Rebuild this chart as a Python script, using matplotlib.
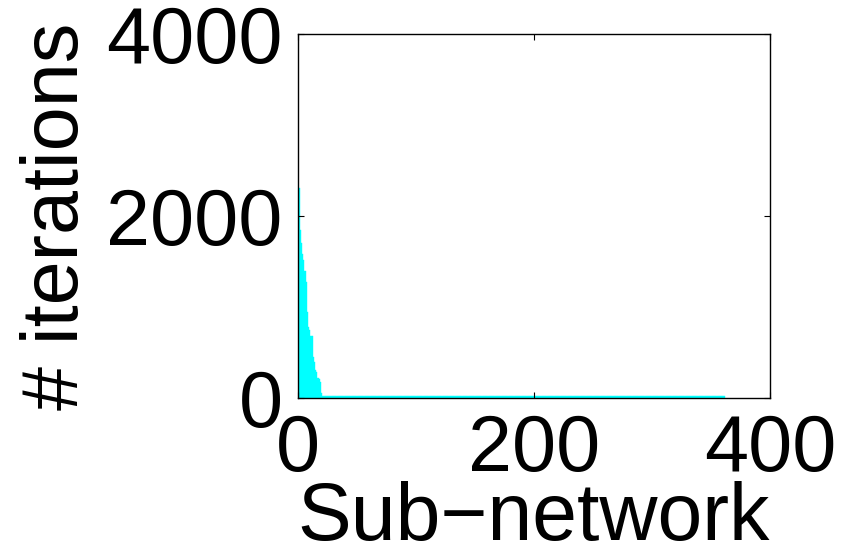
import matplotlib
matplotlib.use("Agg")
import matplotlib.pyplot as plt
import numpy as np

# iterations per sub-network (sorted descending)
head_values = [2310, 1848, 1700, 1584, 1518, 1400, 1280, 946, 784, 750,
               685, 685, 450, 400, 308, 290, 220, 210, 180, 60]
tail_values = [20] * 341
iterations = head_values + tail_values
subnet = np.arange(1, len(iterations) + 1)

xticks = [0, 200, 400]
yticks = [0, 2000, 4000]

plt.rcParams['font.family'] = ['Liberation Sans', 'DejaVu Sans']

fig = plt.figure(figsize=(8.57, 5.6), dpi=100)
ax = fig.add_axes([0.3477, 0.289, 0.5508, 0.650])
ax.bar(subnet, iterations, width=1.0, color='#00ffff', edgecolor='#00ffff',
       linewidth=0.3, align='center')
ax.set_xlim(0, 400)
ax.set_ylim(0, 4000)
ax.set_xticks(xticks)
ax.set_yticks(yticks)
ax.tick_params(direction='in', length=4, width=0.8, top=True, right=True,
               labelsize=57, pad=11)
for s in ax.spines.values():
    s.set_linewidth(1.0)
ax.set_xlabel('Sub\u2212network', fontsize=58, labelpad=-5)
ax.set_ylabel('# iterations', fontsize=57, labelpad=8)

fig.savefig('out.png', dpi=100)
